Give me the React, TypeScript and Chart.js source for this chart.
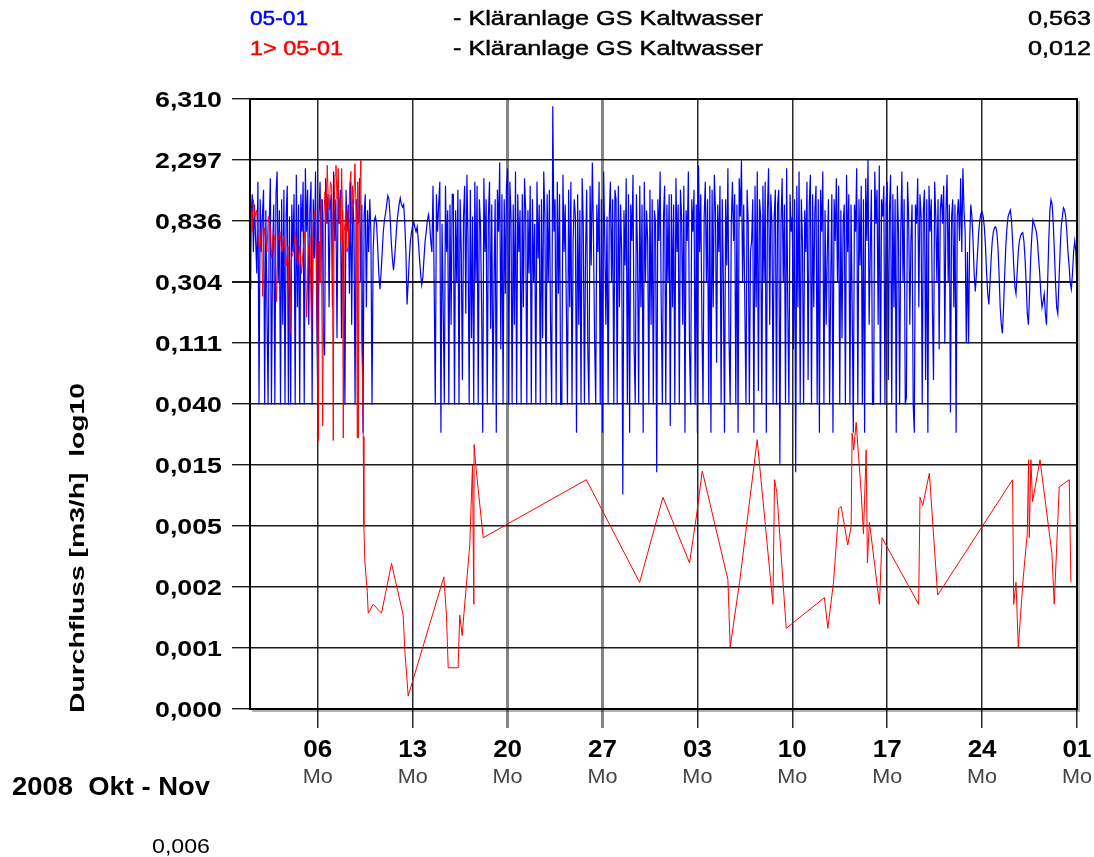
import React, { useEffect, useRef } from "react";
import { Chart, registerables } from "chart.js";

Chart.register(...registerables);

// ---------- data ----------
const X_TICK_DAYS = [5, 12, 19, 26, 33, 40, 47, 54, 61]; // days since 1 Oct 2008
const X_TICK_LABELS = ["06", "13", "20", "27", "03", "10", "17", "24", "01"];
const X_TICK_WEEKDAY = "Mo";
const X_MIN_DAY = 0;
const X_MAX_DAY = 61;

const Y_TICK_VALUES = [6.3096, 2.2966, 0.83602, 0.3043, 0.11076, 0.040318, 0.014676, 0.0053419, 0.0019445, 0.00070779, 0.00025763];
const Y_TICK_LABELS = ["6,310", "2,297", "0,836", "0,304", "0,111", "0,040", "0,015", "0,005", "0,002", "0,001", "0,000"];

const SERIES_IDS = ["05-01", "1> 05-01"];
const SERIES_NAMES = ["- Kläranlage GS Kaltwasser", "- Kläranlage GS Kaltwasser"];
const SERIES_CURRENT = ["0,563", "0,012"];
const SERIES_COLORS = ["#0000ff", "#ff0000"];

const Y_TITLE = "Durchfluss [m3/h]  log10";
const PERIOD_LABEL = "2008  Okt - Nov";
const FOOT_VALUE = "0,006";

// blue series: 2-hourly samples starting 1 Oct 00:00 (one row per day)
const BLUE_START_DAY = 0;
const BLUE_STEP_DAYS = 1 / 12;
const BLUE_VALUES = [
  0.20, 0.9, 1.3, 0.5, 1.1, 0.6, 0.35, 1.6, 0.04, 1.2, 0.5, 0.9,
  1.4, 0.04, 1.0, 0.2, 0.04, 0.8, 1.7, 0.04, 0.5, 1.1, 0.04, 1.3,
  1.9, 0.3, 1.0, 0.04, 1.2, 0.15, 1.4, 0.04, 0.9, 1.5, 0.04, 0.9,
  0.04, 1.1, 0.5, 1.3, 0.04, 1.8, 0.2, 1.1, 0.04, 1.3, 0.7, 1.6,
  0.04, 2.0, 0.7, 1.4, 0.15, 1.0, 1.6, 0.04, 1.2, 0.45, 1.9, 0.2,
  0.04, 0.9, 1.6, 0.45, 1.2, 0.12, 0.09, 1.7, 0.8, 1.3, 0.2, 1.1,
  1.3, 0.2, 1.9, 0.6, 1.2, 0.12, 1.5, 0.8, 1.4, 0.12, 1.0, 0.3,
  0.04, 1.4, 0.7, 1.1, 0.25, 1.6, 0.15, 1.2, 0.8, 0.04, 1.2, 0.9,
  0.8, 1.7, 0.3, 1.1, 0.025, 0.9, 1.3, 0.2, 1.0, 0.5, 1.2, 0.7,
  0.04, 0.5, 0.85, 0.9, 0.8, 0.55, 0.35, 0.27, 0.35, 0.5, 0.7, 0.85,
  0.95, 1.1, 1.27, 1.2, 0.9, 0.6, 0.45, 0.37, 0.45, 0.6, 0.8, 0.95,
  1.1, 1.22, 1.1, 1.05, 1.1, 0.8, 0.5, 0.21, 0.3, 0.45, 0.6, 0.7,
  0.78, 0.82, 0.75, 0.7, 0.76, 0.6, 0.45, 0.35, 0.29, 0.33, 0.45, 0.6,
  0.7, 0.85, 0.93, 0.8, 0.6, 0.5, 1.5, 0.3, 0.04, 1.3, 0.7, 1.1,
  1.6, 0.025, 0.8, 0.2, 0.04, 1.5, 0.5, 1.0, 0.04, 1.1, 0.15, 1.3,
  1.3, 0.04, 1.0, 0.3, 1.4, 0.04, 1.2, 0.5, 0.06, 0.9, 1.5, 0.18,
  1.8, 0.6, 0.04, 1.4, 0.12, 0.9, 0.04, 1.6, 0.3, 1.5, 0.04, 1.2,
  0.8, 0.2, 0.025, 1.7, 0.5, 1.2, 0.04, 0.9, 1.6, 0.14, 1.1, 0.04,
  0.3, 1.2, 0.025, 1.4, 0.7, 2.2, 0.1, 1.3, 0.04, 1.2, 0.25, 1.5,
  2.0, 0.04, 1.6, 0.9, 0.04, 1.1, 0.15, 1.9, 0.04, 1.3, 0.5, 1.0,
  0.04, 1.3, 0.2, 1.7, 1.0, 0.04, 1.0, 0.35, 1.5, 0.04, 1.2, 0.3,
  0.8, 0.04, 1.6, 0.45, 1.1, 0.04, 1.2, 0.12, 1.9, 0.9, 0.04, 1.3,
  0.3, 1.4, 0.16, 0.04, 5.6, 0.7, 1.2, 0.04, 1.6, 0.25, 1.3, 0.04,
  0.04, 1.8, 0.5, 1.1, 0.2, 0.04, 1.4, 0.2, 1.6, 0.04, 0.6, 1.2,
  0.9, 0.025, 1.3, 0.15, 1.0, 0.04, 1.7, 0.8, 0.04, 0.5, 1.4, 0.1,
  0.04, 1.5, 0.4, 2.2, 0.7, 0.12, 0.04, 1.1, 0.5, 1.6, 0.04, 1.2,
  0.025, 1.9, 0.6, 0.15, 0.9, 0.04, 0.9, 1.6, 0.3, 1.2, 0.04, 1.4,
  1.2, 0.04, 1.5, 0.2, 1.1, 0.5, 0.009, 1.0, 0.4, 1.7, 0.04, 1.3,
  0.025, 1.1, 0.6, 1.8, 0.1, 0.04, 1.3, 0.5, 0.04, 1.5, 0.2, 1.1,
  0.025, 1.6, 0.3, 1.0, 0.6, 0.04, 1.4, 0.15, 1.2, 0.04, 1.0, 0.8,
  0.013, 1.2, 0.6, 1.9, 0.2, 0.04, 0.9, 1.5, 0.04, 1.1, 0.3, 1.3,
  0.028, 1.3, 0.2, 1.1, 0.04, 1.7, 0.5, 1.1, 0.04, 1.4, 0.9, 0.15,
  1.5, 0.025, 1.0, 0.6, 1.9, 0.1, 0.04, 1.2, 0.7, 1.4, 0.04, 1.1,
  0.025, 2.1, 0.5, 1.3, 0.15, 0.04, 0.9, 1.6, 0.3, 1.2, 0.04, 1.5,
  0.025, 1.4, 0.2, 1.8, 1.0, 0.08, 1.1, 0.5, 1.5, 0.04, 1.2, 0.3,
  0.025, 1.2, 0.4, 2.0, 0.12, 0.04, 0.8, 1.6, 0.6, 1.3, 0.04, 1.1,
  0.025, 1.7, 0.9, 2.3, 0.3, 1.1, 0.2, 0.04, 1.4, 0.8, 0.04, 0.5,
  0.6, 1.2, 0.025, 1.5, 0.2, 1.9, 0.05, 1.2, 0.9, 0.04, 1.5, 0.3,
  1.6, 0.025, 1.0, 2.0, 0.15, 1.3, 0.8, 0.04, 0.9, 1.4, 0.04, 1.1,
  1.4, 0.015, 0.8, 1.7, 0.3, 1.1, 0.04, 2.0, 0.2, 0.04, 1.3, 0.7,
  0.9, 0.1, 1.2, 0.013, 1.5, 0.2, 1.9, 0.04, 1.2, 0.6, 0.04, 1.0,
  0.5, 1.6, 0.06, 1.1, 1.8, 0.04, 1.3, 0.2, 1.0, 1.5, 0.04, 1.2,
  0.025, 1.4, 0.7, 1.9, 0.04, 1.0, 0.15, 0.5, 1.2, 0.04, 0.3, 1.3,
  0.025, 1.2, 0.6, 1.7, 0.3, 1.5, 0.04, 1.0, 0.12, 0.8, 1.1, 0.04,
  1.8, 0.5, 1.3, 0.04, 1.1, 0.2, 0.025, 1.1, 0.7, 2.0, 0.04, 1.2,
  0.4, 1.5, 0.04, 1.2, 0.025, 1.7, 0.6, 2.3, 0.15, 0.5, 1.4, 0.04,
  0.04, 1.9, 0.8, 1.4, 0.15, 2.1, 0.04, 1.2, 0.9, 1.5, 0.04, 1.1,
  1.6, 0.06, 1.0, 1.8, 0.04, 1.3, 0.2, 1.2, 0.025, 1.5, 0.7, 0.04,
  0.7, 1.9, 0.3, 1.2, 0.04, 0.045, 1.6, 0.9, 0.15, 0.6, 1.1, 0.04,
  0.025, 1.1, 0.8, 1.7, 0.2, 1.3, 0.9, 0.04, 1.0, 1.4, 0.06, 1.2,
  0.025, 1.5, 0.7, 1.2, 0.2, 0.06, 1.6, 0.9, 0.3, 1.2, 0.1, 1.0,
  1.3, 0.8, 1.5, 0.11, 1.0, 1.8, 0.3, 1.1, 0.035, 0.9, 1.2, 0.2,
  1.1, 0.025, 0.9, 1.2, 0.6, 1.7, 0.5, 2.0, 1.0, 0.7, 0.11, 0.5,
  0.11, 0.6, 1.1, 0.9, 0.6, 0.35, 0.26, 0.35, 0.5, 0.7, 0.85, 0.95,
  0.97, 0.9, 0.75, 0.55, 0.35, 0.25, 0.21, 0.3, 0.45, 0.6, 0.7, 0.75,
  0.76, 0.7, 0.55, 0.35, 0.2, 0.15, 0.13, 0.2, 0.35, 0.55, 0.75, 0.9,
  0.95, 1.0, 0.85, 0.6, 0.4, 0.28, 0.25, 0.35, 0.5, 0.6, 0.65, 0.68,
  0.69, 0.6, 0.45, 0.3, 0.18, 0.15, 0.25, 0.45, 0.65, 0.85, 0.8, 0.75,
  0.7, 0.6, 0.45, 0.35, 0.25, 0.2, 0.22, 0.25, 0.18, 0.15, 0.3, 0.6,
  1.0, 1.19, 1.1, 0.8, 0.5, 0.3, 0.2, 0.18, 0.3, 0.5, 0.75, 0.9,
  1.04, 1.0, 0.9, 0.7, 0.5, 0.4, 0.3, 0.27, 0.35, 0.5, 0.6, 0.5,
  0.27,
];

// red series: irregular samples (day since 1 Oct, value)
const RED_DAYS = [
  0.0, 0.07, 0.15, 0.25, 0.35, 0.49, 0.6, 0.74, 0.85, 0.93, 1.0, 1.1, 1.25, 1.35, 1.47, 1.6, 1.72, 1.84, 1.96,
  2.05, 2.21, 2.35, 2.5, 2.7, 2.8, 2.95, 3.05, 3.19, 3.35, 3.5, 3.68, 3.8, 3.93, 4.05, 4.18, 4.3, 4.42, 4.54,
  4.65, 4.79, 4.9, 5.04, 5.1, 5.16, 5.25, 5.36, 5.45, 5.53, 5.6, 5.7, 5.78, 5.85, 5.93, 6.02, 6.08, 6.14, 6.2,
  6.27, 6.34, 6.42, 6.51, 6.57, 6.63, 6.7, 6.76, 6.82, 6.88, 6.95, 7.08, 7.15, 7.25, 7.35, 7.44, 7.5, 7.57,
  7.65, 7.74, 7.8, 7.86, 7.91, 7.95, 7.98, 8.05, 8.11, 8.18, 8.23, 8.3, 8.35,
  8.4, 8.47, 8.65, 8.72, 9.09, 9.7, 10.44, 11.3, 11.42, 11.67, 14.3, 14.49, 14.62, 15.35, 15.47, 15.65, 15.77,
  16.21, 16.41, 16.51, 16.53, 16.65, 17.2, 24.81, 28.74, 30.46, 32.42, 32.92, 33.36, 35.25, 35.42, 36.11,
  37.41, 38.57, 38.69, 38.86, 39.55, 42.37, 42.62, 43.04, 43.43, 43.6, 44.09, 44.34, 44.41, 44.53, 44.71,
  45.08, 45.25, 45.45, 45.54, 45.69, 46.43, 46.62, 49.32, 49.42, 49.62, 50.11, 50.72, 56.25, 56.33, 56.5,
  56.67, 57.04, 57.33, 57.43, 57.48, 57.6, 57.72, 58.27, 59.15, 59.32, 59.69, 60.43, 60.55,
];
const RED_VALUES = [
  0.27, 1.04, 0.7, 1.19, 0.9, 1.0, 0.6, 0.52, 0.8, 0.24, 0.6, 0.75, 0.5, 0.9, 0.8, 0.45, 0.7, 0.6, 0.22,
  0.6, 0.7, 0.5, 0.65, 0.4, 0.55, 0.13, 0.45, 0.5, 0.7, 0.4, 0.55, 0.35, 0.53, 0.7, 0.17, 0.5, 0.65, 0.12,
  0.8, 1.0, 0.5, 0.022, 0.6, 0.3, 1.2, 0.028, 0.9, 1.36, 0.8, 2.1, 1.1, 1.0, 1.6, 1.5, 0.5, 0.022, 0.9,
  1.8, 2.1, 1.2, 2.0, 0.8, 1.2, 0.6, 2.0, 1.0, 0.023, 0.7, 1.0, 0.5, 0.55, 1.5, 1.9, 0.8, 1.5,
  1.1, 2.16, 1.3, 0.9, 0.023, 1.6, 0.023, 1.0, 1.5, 2.3, 0.12, 0.06, 0.0235,
  0.0053, 0.003, 0.0018, 0.00126, 0.00146, 0.00126, 0.00287, 0.00122, 0.00068, 0.00032, 0.0023, 0.00122, 0.00051, 0.00051, 0.00122, 0.00087, 0.00122,
  0.0039, 0.0147, 0.00146, 0.0206, 0.0147, 0.0044, 0.0115, 0.0021, 0.0086, 0.0029, 0.0062, 0.0133, 0.0022, 0.00072, 0.0021,
  0.0223, 0.00146, 0.0115, 0.0093, 0.00098, 0.00163, 0.00098, 0.0021, 0.0071, 0.0074, 0.0039, 0.0053, 0.0248, 0.0188, 0.0297,
  0.0093, 0.0047, 0.0188, 0.0029, 0.0057, 0.00146, 0.0044, 0.00146, 0.0086, 0.0075, 0.0128, 0.0017, 0.0115, 0.00146, 0.0021,
  0.00072, 0.0023, 0.0047, 0.016, 0.0044, 0.016, 0.008, 0.016, 0.0034, 0.00146, 0.0102, 0.0115, 0.0021,
];

// ---------- drawing helpers ----------
const FONT = '"Liberation Sans", Arial, Helvetica, sans-serif';

type TextOpts = {
  font: string;
  color?: string;
  width?: number;
  sx?: number;
  align?: "left" | "right" | "center";
  rotate?: boolean;
  stroke?: number;
};

function drawText(ctx: CanvasRenderingContext2D, text: string, x: number, y: number, o: TextOpts) {
  ctx.save();
  ctx.font = o.font;
  ctx.fillStyle = o.color || "#000";
  ctx.textBaseline = "alphabetic";
  ctx.textAlign = "left";
  const w = ctx.measureText(text).width;
  const sx = o.width ? o.width / w : o.sx || 1;
  ctx.translate(x, y);
  if (o.rotate) ctx.rotate(-Math.PI / 2);
  ctx.scale(sx, 1);
  const align = o.align || "left";
  const off = align === "left" ? 0 : align === "right" ? -w : -w / 2;
  ctx.fillText(text, off, 0);
  if (o.stroke) {
    ctx.strokeStyle = o.color || "#000";
    ctx.lineWidth = o.stroke;
    ctx.strokeText(text, off, 0);
  }
  ctx.restore();
}

const decorPlugin = {
  id: "decor",
  afterDraw(chart: any) {
    const ctx: CanvasRenderingContext2D = chart.ctx;
    const { left, right, top, bottom } = chart.chartArea;
    const xs = chart.scales.x;
    const ys = chart.scales.y;

    // plot frame with slight shadow
    ctx.save();
    ctx.strokeStyle = "rgba(0,0,0,0.3)";
    ctx.lineWidth = 2;
    ctx.beginPath();
    ctx.moveTo(right + 2, top + 2);
    ctx.lineTo(right + 2, bottom + 2);
    ctx.lineTo(left + 2, bottom + 2);
    ctx.stroke();
    ctx.strokeStyle = "#000";
    ctx.lineWidth = 2;
    ctx.strokeRect(left, top, right - left, bottom - top);
    ctx.restore();

    // y tick labels
    Y_TICK_VALUES.forEach((v, i) => {
      const y = ys.getPixelForValue(v);
      drawText(ctx, Y_TICK_LABELS[i], 222, y + 8, { font: `bold 22px ${FONT}`, width: 67, align: "right" });
    });

    // x tick labels
    X_TICK_DAYS.forEach((d, i) => {
      const x = xs.getPixelForValue(d);
      drawText(ctx, X_TICK_LABELS[i], x, 757, { font: `bold 23px ${FONT}`, sx: 1.13, align: "center" });
      drawText(ctx, X_TICK_WEEKDAY, x, 783, { font: `21px ${FONT}`, sx: 1.03, align: "center", color: "#444" });
    });

    // header / legend
    const rows = [25, 55];
    const idWidths = [58, 93];
    SERIES_IDS.forEach((id, i) => {
      drawText(ctx, id, 250, rows[i], { font: `21px ${FONT}`, width: idWidths[i], color: SERIES_COLORS[i], stroke: 0.5 });
      drawText(ctx, SERIES_NAMES[i], 453, rows[i], { font: `21px ${FONT}`, width: 310, stroke: 0.5 });
      drawText(ctx, SERIES_CURRENT[i], 1091, rows[i], { font: `21px ${FONT}`, width: 63, align: "right", stroke: 0.5 });
    });

    // axis title
    drawText(ctx, Y_TITLE, 84, 713, { font: `bold 20px ${FONT}`, width: 330, rotate: true });

    // period + footer value
    drawText(ctx, PERIOD_LABEL, 12, 795, { font: `bold 25px ${FONT}`, width: 198 });
    drawText(ctx, FOOT_VALUE, 210, 853, { font: `21px ${FONT}`, width: 58, align: "right" });
  },
};

export default function App() {
  const ref = useRef<HTMLCanvasElement | null>(null);

  useEffect(() => {
    if (!ref.current) return;
    const blueData = BLUE_VALUES.map((v, i) => ({ x: BLUE_START_DAY + i * BLUE_STEP_DAYS, y: v }));
    const redData = RED_DAYS.map((d, i) => ({ x: d, y: RED_VALUES[i] }));

    const chart = new Chart(ref.current, {
      type: "line",
      data: {
        datasets: [
          {
            label: SERIES_IDS[1],
            data: redData,
            borderColor: SERIES_COLORS[1],
            borderWidth: 1,
            pointRadius: 0,
            fill: false,
            tension: 0,
          },
          {
            label: SERIES_IDS[0],
            data: blueData,
            borderColor: SERIES_COLORS[0],
            borderWidth: 1.2,
            pointRadius: 0,
            fill: false,
            tension: 0,
          },
        ],
      },
      options: {
        responsive: false,
        animation: false,
        devicePixelRatio: 1,
        events: [],
        layout: { padding: { top: 99, right: 17, bottom: 0, left: 0 } },
        plugins: {
          legend: { display: false },
          tooltip: { enabled: false },
        },
        scales: {
          x: {
            type: "linear",
            min: X_MIN_DAY,
            max: X_MAX_DAY,
            afterBuildTicks: (s: any) => {
              s.ticks = X_TICK_DAYS.map((v) => ({ value: v }));
            },
            afterFit: (s: any) => {
              s.height = 148;
            },
            ticks: { display: false },
            border: { display: false },
            grid: {
              drawTicks: true,
              tickLength: 19,
              color: (c: any) => {
                const v = c.tick ? c.tick.value : 0;
                return v === 19 || v === 26 ? "#858585" : "#2a2a2a";
              },
              lineWidth: (c: any) => {
                const v = c.tick ? c.tick.value : 0;
                return v === 19 || v === 26 ? 3 : 1.5;
              },
            },
          },
          y: {
            type: "logarithmic",
            min: Y_TICK_VALUES[Y_TICK_VALUES.length - 1],
            max: Y_TICK_VALUES[0],
            afterBuildTicks: (s: any) => {
              s.ticks = Y_TICK_VALUES.map((v) => ({ value: v }));
            },
            afterFit: (s: any) => {
              s.width = 250;
            },
            ticks: { display: false },
            border: { display: false },
            grid: {
              drawTicks: true,
              tickLength: 18,
              color: "#1a1a1a",
              lineWidth: (c: any) => (c.tick && c.tick.value === Y_TICK_VALUES[3] ? 2 : 1.4),
            },
          },
        },
      },
      plugins: [decorPlugin],
    } as any);

    return () => chart.destroy();
  }, []);

  return (
    <div style={{ position: "absolute", left: 0, top: 0, width: 1094, height: 857, background: "#fff" }}>
      <canvas ref={ref} width={1094} height={857} style={{ display: "block" }} />
    </div>
  );
}
